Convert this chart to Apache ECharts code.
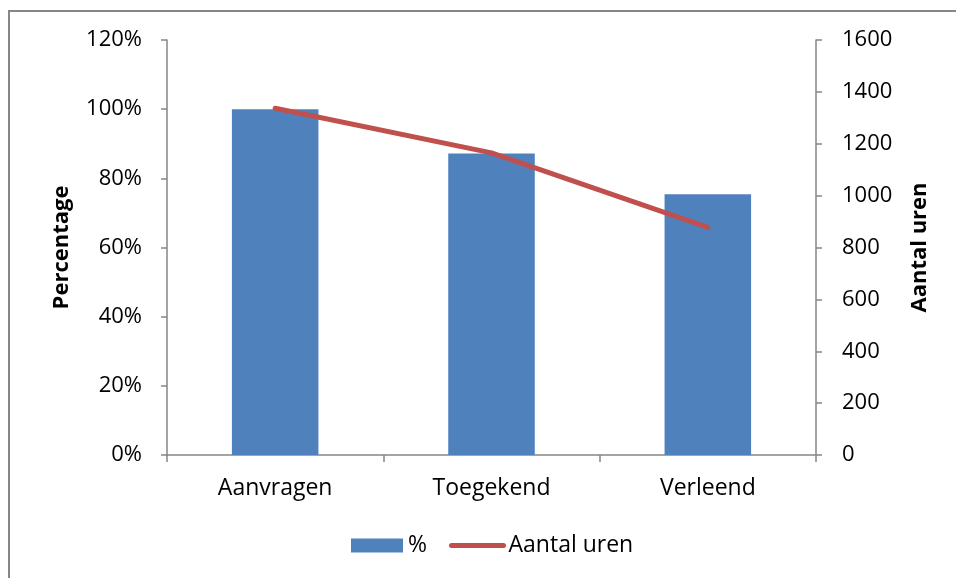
<!DOCTYPE html>
<html>
<head>
<meta charset="utf-8">
<script src="https://cdn.jsdelivr.net/npm/echarts@6/dist/echarts.min.js"></script>
<style>html,body{margin:0;padding:0;background:#fff}#c{width:956px;height:578px}</style>
</head>
<body>
<div id="c"></div>
<script>
var categories = ['Aanvragen', 'Toegekend', 'Verleend'];
var percentValues = [100, 87.2, 75.4];
var urenValues = [1337, 1165, 878];
var leftTicks = {min: 0, max: 120, interval: 20};
var rightTicks = {min: 0, max: 1600, interval: 200};

var FONT = 'Open Sans';
var AX = '#868686';
var chart = echarts.init(document.getElementById('c'), null, {renderer: 'canvas'});
chart.setOption({
  animation: false,
  backgroundColor: '#fff',
  textStyle: {fontFamily: FONT},
  graphic: [
    {type: 'line', shape: {x1: 9, y1: 11, x2: 9, y2: 578}, style: {stroke: AX, lineWidth: 2}},
    {type: 'line', shape: {x1: 8, y1: 11, x2: 956, y2: 11}, style: {stroke: AX, lineWidth: 2}}
  ],
  grid: {left: 167, right: 140, top: 40, bottom: 123},
  legend: {
    bottom: 16, left: 346,
    itemGap: 22,
    itemWidth: 52, itemHeight: 14,
    textStyle: {fontFamily: FONT, fontSize: 23, color: '#000', padding: [0,0,0,0]},
    data: [
      {name: '%', icon: 'rect'},
      {name: 'Aantal uren', itemStyle: {opacity: 0}, lineStyle: {width: 5, cap: 'round', color: '#C0504D'}}
    ]
  },
  xAxis: {
    type: 'category', data: categories,
    axisLine: {lineStyle: {color: AX, width: 1.5}},
    axisTick: {show: true, length: 7, lineStyle: {color: AX, width: 1.5}},
    axisLabel: {color: '#000', fontSize: 23, fontFamily: FONT, margin: 22}
  },
  yAxis: [
    {
      type: 'value', min: leftTicks.min, max: leftTicks.max, interval: leftTicks.interval,
      name: 'Percentage', nameLocation: 'middle', nameGap: 94, nameRotate: 90,
      nameTextStyle: {fontWeight: 'bold', fontSize: 22, color: '#000', fontFamily: FONT},
      axisLine: {show: true, lineStyle: {color: AX, width: 1.5}},
      axisTick: {show: true, length: 6, lineStyle: {color: AX, width: 1.5}},
      splitLine: {show: false},
      axisLabel: {color: '#000', fontSize: 22, fontFamily: FONT, margin: 25, formatter: '{value}%'}
    },
    {
      type: 'value', min: rightTicks.min, max: rightTicks.max, interval: rightTicks.interval,
      position: 'right',
      name: 'Aantal uren', nameLocation: 'middle', nameGap: 93, nameRotate: 90,
      nameTextStyle: {fontWeight: 'bold', fontSize: 22, color: '#000', fontFamily: FONT},
      axisLine: {show: true, lineStyle: {color: AX, width: 1.5}},
      axisTick: {show: true, length: 6, lineStyle: {color: AX, width: 1.5}},
      splitLine: {show: false},
      axisLabel: {color: '#000', fontSize: 22, fontFamily: FONT, margin: 26, formatter: function (v) { return String(v); }}
    }
  ],
  series: [
    {
      name: '%', type: 'bar', data: percentValues, yAxisIndex: 0,
      barWidth: '40%',
      itemStyle: {color: '#4F81BD'}
    },
    {
      name: 'Aantal uren', type: 'line', data: urenValues, yAxisIndex: 1,
      symbol: 'none', showSymbol: false,
      lineStyle: {color: '#C0504D', width: 5, cap: 'round'},
      itemStyle: {color: '#C0504D'}
    }
  ]
});
</script>
</body>
</html>
